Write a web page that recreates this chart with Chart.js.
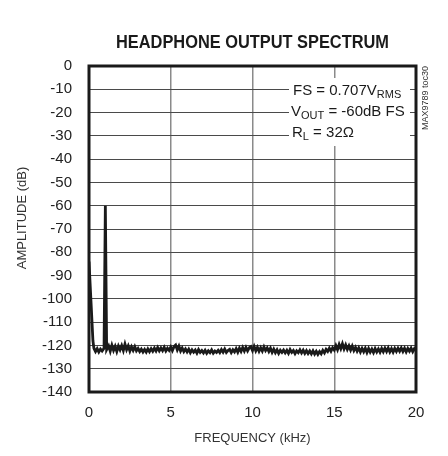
<!DOCTYPE html>
<html>
<head>
<meta charset="utf-8">
<script src="https://cdn.jsdelivr.net/npm/chart.js@4.4.1/dist/chart.umd.min.js"></script>
<style>
  html, body { margin: 0; padding: 0; background: #fff; }
  canvas { display: block; }
</style>
</head>
<body>
<canvas id="spectrum" width="448" height="456"></canvas>
<script>
// --- DATA ---
const FONT = "'Liberation Sans', Arial, Helvetica, sans-serif";

// DC skirt at the left edge
const dcFreq = [0, 0.12, 0.24];
const dcDB = [-84, -101, -118];

// 1kHz test tone, -60dB
const toneFreq = [0.92, 1.0, 1.08];
const toneDB = [-121.2, -60, -121.8];

// noise floor, sampled every 0.1kHz from 0.3kHz to 20kHz
const noiseStart = 0.3;
const noiseStep = 0.1;
const noiseDB = [
  -121.2, -122.6, -121.4, -122.8, -121.6, -122.4, -120.9,
  -120.6, -122.3, -120.2, -122.5, -119.9, -122.1, -120.4, -122.6, -120.3, -121.9,
  -120.1, -122.2, -119.4, -121.8, -120.2, -122.4, -120.6, -122.1, -120.5, -122.3,
  -121.3, -122.6, -121.6, -122.8, -121.7, -122.9, -121.5, -122.7, -121.4, -122.5,
  -121.2, -122.4, -120.9, -122.3, -121.1, -122.2, -120.8, -122.4, -121.2, -122.1,
  -120.7, -122.2, -120.5, -119.8, -121.9, -120.3, -122.4, -121.1, -122.6, -121.5,
  -122.8, -121.6, -123.1, -121.9, -122.9, -122, -123.3, -121.8, -123, -122.2,
  -123.2, -122.1, -123.4, -122.3, -123.1, -121.9, -123.3, -122.4, -123, -122.1,
  -123.1, -121.8, -122.9, -121.6, -123, -122.2, -121.7, -123.1, -121.9, -122.8,
  -121.4, -122.9, -121.2, -122.6, -120.9, -122.4, -120.8, -122.3, -121, -120.5,
  -122.2, -120.4, -122.3, -120.8, -122.5, -121, -122.4, -120.6, -122.2, -121.1,
  -122.6, -121.2, -123, -121.6, -123.1, -121.9, -123.4, -122.1, -123, -122,
  -123.2, -122.1, -123.4, -121.8, -123, -122.2, -123.5, -122.3, -123.1, -121.9,
  -123.2, -122, -123.4, -122.2, -123.5, -122.4, -123.6, -122.3, -123.7, -122.5,
  -123.8, -122.6, -123.6, -122.1, -123.2, -121.7, -122.6, -121.2, -122.5, -121,
  -122, -120.1, -121.8, -119.6, -121.4, -119.3, -121.5, -119.8, -121.7, -120.2,
  -122, -120.3, -122.2, -120.8, -122.5, -121.1, -122.8, -121.3, -122.7, -121.2,
  -123, -121.3, -122.9, -121.6, -123.1, -121.4, -122.8, -121.5, -122.9, -121.3,
  -122.7, -121.2, -122.6, -121.1, -122.8, -121.4, -122.9, -121.3, -122.6, -121.2,
  -122.5, -121.1, -122.6, -121.2, -122.8, -121.3, -122.5, -121.2, -122.7, -121.4, -122.2
];

const xTicks = [0, 5, 10, 15, 20];
const yTicks = [0, -10, -20, -30, -40, -50, -60, -70, -80, -90, -100, -110, -120, -130, -140];

// --- BUILD TRACE ---
const trace = [];
dcFreq.forEach((f, i) => trace.push({ x: f, y: dcDB[i] }));
noiseDB.forEach((v, i) => {
  const f = +(noiseStart + i * noiseStep).toFixed(2);
  if (f > 0.85 && f < 1.15) return; // tone sits here
  trace.push({ x: f, y: v });
});
toneFreq.forEach((f, i) => trace.push({ x: f, y: toneDB[i] }));
trace.sort((a, b) => a.x - b.x);

// --- DECORATIONS: title, notes, frame ---
const decorations = {
  id: 'decorations',
  beforeDatasetsDraw(chart) {
    const { ctx } = chart;
    // white panel behind the conditions text
    ctx.save();
    ctx.fillStyle = '#fff';
    ctx.fillRect(289, 78, 121, 68);
    ctx.restore();
  },
  afterDraw(chart) {
    const { ctx, chartArea: a } = chart;
    ctx.save();

    // title (condensed bold)
    ctx.fillStyle = '#1a1a1a';
    ctx.font = `bold 18px ${FONT}`;
    ctx.textAlign = 'center';
    ctx.textBaseline = 'alphabetic';
    ctx.save();
    ctx.translate((a.left + a.right) / 2, 48);
    ctx.scale(0.91, 1);
    ctx.fillText('HEADPHONE OUTPUT SPECTRUM', 0, 0);
    ctx.restore();

    // y axis title
    ctx.save();
    ctx.fillStyle = '#333';
    ctx.font = `13px ${FONT}`;
    ctx.textBaseline = 'middle';
    ctx.translate(22, 218);
    ctx.rotate(-Math.PI / 2);
    ctx.fillText('AMPLITUDE (dB)', 0, 0);
    ctx.restore();

    // conditions
    const line = (x, y, parts) => {
      let cx = x;
      parts.forEach(([txt, sub]) => {
        ctx.font = sub ? `11px ${FONT}` : `15px ${FONT}`;
        ctx.fillText(txt, cx, sub ? y + 2.5 : y);
        cx += ctx.measureText(txt).width;
      });
    };
    ctx.fillStyle = '#1a1a1a';
    ctx.textAlign = 'left';
    ctx.textBaseline = 'alphabetic';
    line(293, 95, [['FS = 0.707V'], ['RMS', true]]);
    line(291, 116, [['V'], ['OUT', true], [' = -60dB FS']]);
    line(292, 137, [['R'], ['L', true], [' = 32\u03A9']]);

    // part code, vertical
    ctx.save();
    ctx.fillStyle = '#333';
    ctx.font = `9px ${FONT}`;
    ctx.textAlign = 'center';
    ctx.textBaseline = 'middle';
    ctx.translate(426, 98);
    ctx.rotate(-Math.PI / 2);
    ctx.fillText('MAX9789 toc30', 0, 0);
    ctx.restore();

    // heavy frame
    ctx.strokeStyle = '#1a1a1a';
    ctx.lineWidth = 3;
    ctx.strokeRect(a.left, a.top, a.right - a.left, a.bottom - a.top);
    ctx.restore();
  }
};

// --- CHART ---
new Chart(document.getElementById('spectrum'), {
  type: 'line',
  data: {
    datasets: [{
      data: trace,
      borderColor: '#1a1a1a',
      borderWidth: 2.8,
      borderJoinStyle: 'miter',
      pointRadius: 0,
      tension: 0,
      fill: false
    }]
  },
  options: {
    responsive: false,
    animation: false,
    layout: { padding: { top: 66, right: 32, left: 0, bottom: 0 } },
    plugins: { legend: { display: false }, tooltip: { enabled: false } },
    scales: {
      x: {
        type: 'linear', min: 0, max: 20,
        afterFit: s => { s.height = 64; },
        afterBuildTicks: s => { s.ticks = xTicks.map(v => ({ value: v })); },
        ticks: { padding: 12, color: '#222', maxRotation: 0, font: { size: 15, family: FONT } },
        grid: {
          drawTicks: false, lineWidth: 1.5,
          color: c => (c.tick && (c.tick.value === 0 || c.tick.value === 20)) ? 'rgba(0,0,0,0)' : '#8a8a8a'
        },
        border: { display: false },
        title: {
          display: true, text: 'FREQUENCY (kHz)', color: '#333',
          font: { size: 13, family: FONT }, padding: { top: 0, bottom: 10 }
        }
      },
      y: {
        type: 'linear', min: -140, max: 0,
        afterFit: s => { s.width = 89; },
        afterBuildTicks: s => { s.ticks = yTicks.map(v => ({ value: v })); },
        ticks: { padding: 17, color: '#222', font: { size: 15, family: FONT } },
        grid: { drawTicks: false, lineWidth: 1, color: '#4a4a4a' },
        border: { display: false }
      }
    }
  },
  plugins: [decorations]
});
</script>
</body>
</html>
